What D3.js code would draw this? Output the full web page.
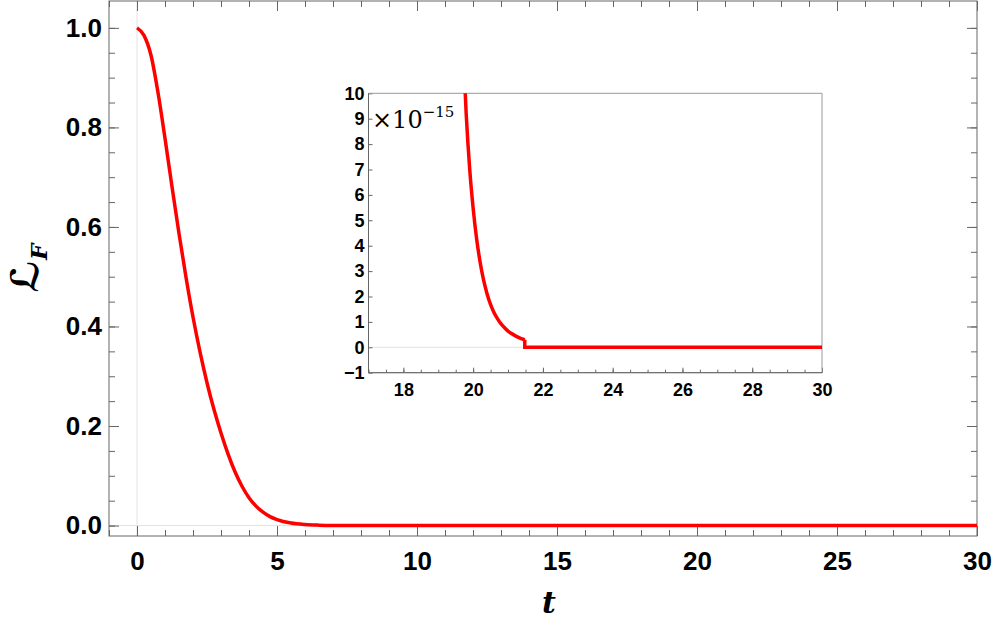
<!DOCTYPE html>
<html>
<head>
<meta charset="utf-8">
<script src="https://cdn.jsdelivr.net/npm/d3@7"></script>
<style>
  body { margin: 0; background: #fff; }
  svg { display: block; }
</style>
</head>
<body>
<div id="chart"></div>
<script>
const width = 996;
const height = 642;

// main curve, L_F(t)
const mainT = [0, 0.25, 0.5, 0.75, 1.0, 1.25, 1.5, 1.75, 2.0, 2.25, 2.5, 2.75, 3.0, 3.25, 3.5, 3.75, 4.0, 4.25, 4.5, 4.75, 5.0, 5.5, 6.0, 6.5, 7.0, 8.0, 9.0, 10, 15, 20, 25, 30];
const mainL = [1.0, 0.985, 0.945, 0.87, 0.778, 0.681, 0.587, 0.499, 0.419, 0.349, 0.287, 0.233, 0.186, 0.144, 0.108, 0.079, 0.056, 0.039, 0.027, 0.018, 0.012, 0.005, 0.002, 0.0008, 0.0003, 0.00003, 0.000003, 0, 0, 0, 0, 0];

// inset, values in units of 1e-15
const insetT = [19.7, 19.8, 19.9, 20.0, 20.1, 20.2, 20.3, 20.4, 20.5, 20.6, 20.7, 20.8, 20.9, 21.0, 21.1, 21.2, 21.3, 21.4, 21.48];
const insetL = [12.2, 9.2, 7.03, 5.47, 4.26, 3.35, 2.64, 2.10, 1.68, 1.36, 1.12, 0.92, 0.77, 0.64, 0.54, 0.46, 0.39, 0.33, 0.295];
const tailT = [21.48, 21.48, 30];
const tailL = [0.295, 0, 0];

const mainXTicks = [0, 5, 10, 15, 20, 25, 30];
const mainYTicks = [0, 0.2, 0.4, 0.6, 0.8, 1.0];
const insetXTicks = [18, 20, 22, 24, 26, 28, 30];
const insetYTicks = [-1, 0, 1, 2, 3, 4, 5, 6, 7, 8, 9, 10];

const labelFont = "'Liberation Sans', Arial, sans-serif";
const frameColor = "#666";
const gridColor = "#e2e2e2";
const lineColor = "#ff0000";

const svg = d3.select("#chart")
    .append("svg")
    .attr("width", width)
    .attr("height", height)
    .attr("viewBox", [0, 0, width, height]);

svg.append("rect").attr("width", width).attr("height", height).attr("fill", "#fff");

const x = d3.scaleLinear().domain([-1, 30]).range([109, 977]);
const y = d3.scaleLinear().domain([-0.021, 1.054]).range([536, 1]);

const xi = d3.scaleLinear().domain([17, 30]).range([368.5, 822]);
const yi = d3.scaleLinear().domain([-1, 10]).range([372.7, 93.3]);

function styleAxis(g, size) {
    g.select(".domain").remove();
    g.selectAll(".tick line").attr("stroke", frameColor);
    g.selectAll(".tick text")
        .attr("fill", "#000")
        .style("font-family", labelFont)
        .style("font-weight", "bold")
        .style("font-size", size + "px");
}

// ---- main plot ----
const main = svg.append("g");

main.append("line")
    .attr("x1", x(0)).attr("x2", x(0))
    .attr("y1", y.range()[0]).attr("y2", y.range()[1])
    .attr("stroke", gridColor);
main.append("line")
    .attr("x1", x.range()[0]).attr("x2", x.range()[1])
    .attr("y1", y(0)).attr("y2", y(0))
    .attr("stroke", gridColor);

const xMinor = d3.range(-1, 31, 1);
const yMinor = d3.range(0, 1.001, 0.05);

main.append("g")
    .attr("transform", `translate(0,${y.range()[0]})`)
    .call(d3.axisBottom(x).tickValues(xMinor).tickSize(-6).tickFormat(""))
    .call(g => styleAxis(g, 26));
main.append("g")
    .attr("transform", `translate(0,${y.range()[0]})`)
    .call(d3.axisBottom(x).tickValues(mainXTicks).tickSize(-10).tickPadding(16).tickFormat(d3.format("d")))
    .call(g => styleAxis(g, 26));
main.append("g")
    .attr("transform", `translate(0,${y.range()[1]})`)
    .call(d3.axisTop(x).tickValues(xMinor).tickSize(-6).tickFormat(""))
    .call(g => styleAxis(g, 26));
main.append("g")
    .attr("transform", `translate(0,${y.range()[1]})`)
    .call(d3.axisTop(x).tickValues(mainXTicks).tickSize(-10).tickFormat(""))
    .call(g => styleAxis(g, 26));

main.append("g")
    .attr("transform", `translate(${x.range()[0]},0)`)
    .call(d3.axisLeft(y).tickValues(yMinor).tickSize(-6).tickFormat(""))
    .call(g => styleAxis(g, 26));
main.append("g")
    .attr("transform", `translate(${x.range()[0]},0)`)
    .call(d3.axisLeft(y).tickValues(mainYTicks).tickSize(-10).tickPadding(7).tickFormat(d3.format(".1f")))
    .call(g => styleAxis(g, 26));
main.append("g")
    .attr("transform", `translate(${x.range()[1]},0)`)
    .call(d3.axisRight(y).tickValues(yMinor).tickSize(-6).tickFormat(""))
    .call(g => styleAxis(g, 26));
main.append("g")
    .attr("transform", `translate(${x.range()[1]},0)`)
    .call(d3.axisRight(y).tickValues(mainYTicks).tickSize(-10).tickFormat(""))
    .call(g => styleAxis(g, 26));

main.append("rect")
    .attr("x", x.range()[0]).attr("y", y.range()[1])
    .attr("width", x.range()[1] - x.range()[0])
    .attr("height", y.range()[0] - y.range()[1])
    .attr("fill", "none")
    .attr("stroke", frameColor);

const mainLine = d3.line()
    .x((d, i) => x(mainT[i]))
    .y(d => y(d))
    .curve(d3.curveMonotoneX);

main.append("path")
    .attr("d", mainLine(mainL))
    .attr("fill", "none")
    .attr("stroke", lineColor)
    .attr("stroke-width", 3.5)
    .attr("stroke-linejoin", "round");

// axis labels
svg.append("text")
    .attr("x", 549)
    .attr("y", 613)
    .attr("text-anchor", "middle")
    .style("font-family", "'DejaVu Serif', serif")
    .style("font-style", "italic")
    .style("font-weight", "bold")
    .style("font-size", "30px")
    .text("t");

const yLabel = svg.append("text")
    .attr("transform", "translate(38,268) rotate(-90)")
    .attr("text-anchor", "middle")
    .style("font-family", "'DejaVu Sans', sans-serif")
    .style("font-style", "italic")
    .style("font-weight", "bold")
    .style("font-size", "38px");
yLabel.append("tspan").text("ℒ");
yLabel.append("tspan").attr("dy", 9).style("font-size", "23px").style("font-family", "'DejaVu Serif', serif").text("F");

// ---- inset ----
const inset = svg.append("g");

inset.append("rect")
    .attr("x", xi.range()[0]).attr("y", yi.range()[1])
    .attr("width", xi.range()[1] - xi.range()[0])
    .attr("height", yi.range()[0] - yi.range()[1])
    .attr("fill", "#fff");

inset.append("line")
    .attr("x1", xi.range()[0]).attr("x2", xi.range()[1])
    .attr("y1", yi(0)).attr("y2", yi(0))
    .attr("stroke", gridColor);

inset.append("g")
    .attr("transform", `translate(0,${yi.range()[0]})`)
    .call(d3.axisBottom(xi).tickValues(d3.range(17, 30.01, 0.5)).tickSize(-3).tickFormat(""))
    .call(g => styleAxis(g, 18));
inset.append("g")
    .attr("transform", `translate(0,${yi.range()[0]})`)
    .call(d3.axisBottom(xi).tickValues(insetXTicks).tickSize(-5).tickPadding(11).tickFormat(d3.format("d")))
    .call(g => styleAxis(g, 18));
inset.append("g")
    .attr("transform", `translate(${xi.range()[0]},0)`)
    .call(d3.axisLeft(yi).tickValues(insetYTicks).tickSize(-4).tickPadding(4)
        .tickFormat(d => d < 0 ? "\u2212" + Math.abs(d) : d))
    .call(g => styleAxis(g, 18));

inset.append("path")
    .attr("d", `M${xi.range()[0]},${yi.range()[0]}H${xi.range()[1]}V${yi.range()[1]}H${xi.range()[0]}Z`)
    .attr("fill", "none")
    .attr("stroke", "#999");
inset.append("path")
    .attr("d", `M${xi.range()[0]},${yi.range()[1]}V${yi.range()[0]}H${xi.range()[1]}`)
    .attr("fill", "none")
    .attr("stroke", frameColor);

svg.append("clipPath")
    .attr("id", "insetClip")
    .append("rect")
    .attr("x", xi.range()[0]).attr("y", yi.range()[1])
    .attr("width", xi.range()[1] - xi.range()[0])
    .attr("height", yi.range()[0] - yi.range()[1]);

const insetLine = d3.line()
    .x((d, i) => xi(insetT[i]))
    .y(d => yi(d))
    .curve(d3.curveMonotoneX);
const tailLine = d3.line()
    .x((d, i) => xi(tailT[i]))
    .y(d => yi(d));

const curves = inset.append("g").attr("clip-path", "url(#insetClip)");
curves.append("path")
    .attr("d", insetLine(insetL))
    .attr("fill", "none")
    .attr("stroke", lineColor)
    .attr("stroke-width", 3.5);
curves.append("path")
    .attr("d", tailLine(tailL))
    .attr("fill", "none")
    .attr("stroke", lineColor)
    .attr("stroke-width", 3.5)
    .attr("stroke-linejoin", "miter");

const scaleLabel = inset.append("text")
    .attr("x", 372)
    .attr("y", 128)
    .style("font-family", "'DejaVu Serif', 'Liberation Serif', serif")
    .style("font-size", "24px")
    .attr("fill", "#000");
scaleLabel.append("tspan").text("×10");
scaleLabel.append("tspan").attr("dy", -11).style("font-size", "15px").text("−15");
</script>
</body>
</html>
